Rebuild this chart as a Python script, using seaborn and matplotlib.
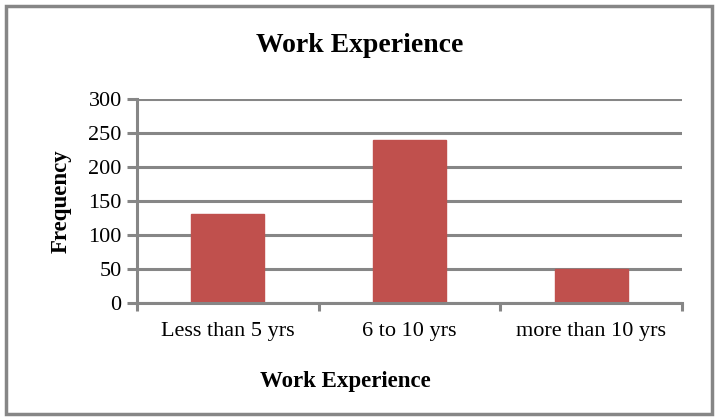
import matplotlib
matplotlib.use("Agg")
import matplotlib.pyplot as plt
import seaborn as sns
import pandas as pd
from matplotlib.patches import Rectangle

categories = ["Less than 5 yrs", "6 to 10 yrs", "more than 10 yrs"]
frequency = [130, 240, 50]
yticks = [0, 50, 100, 150, 200, 250, 300]

sns.set_theme(style="white")
plt.rcParams['font.family'] = ['Liberation Serif', 'DejaVu Serif']
plt.rcParams['text.color'] = 'black'
plt.rcParams['axes.labelcolor'] = 'black'
plt.rcParams['xtick.labelcolor'] = 'black'
plt.rcParams['ytick.labelcolor'] = 'black'

df = pd.DataFrame({"cat": categories, "freq": frequency})

fig = plt.figure(figsize=(7.18, 4.2), dpi=100)
ax = fig.add_axes([137/718, 1-302.7/420, (682-137)/718, (302.7-99)/420])

sns.barplot(data=df, x="cat", y="freq", color="#C0504D", width=0.4,
            saturation=1, ax=ax, edgecolor="#C0504D")

grid_c = "#868686"
ax.set_ylim(0, 300)
ax.set_xlim(-0.5, 2.5)
ax.set_yticks(yticks)
ax.set_yticklabels([str(v) for v in yticks], fontsize=16)
ax.yaxis.grid(True, color=grid_c, linewidth=2.2)
ax.set_axisbelow(True)
ax.tick_params(axis='y', length=7, width=2.2, color=grid_c, pad=4, left=True)
ax.set_xticks([-0.5, 0.5, 1.5, 2.5], minor=True)
ax.set_xticks([0, 1, 2])
ax.set_xticklabels(categories, fontsize=16)
ax.tick_params(axis='x', which='major', length=0, pad=14)
ax.tick_params(axis='x', which='minor', length=6, width=2.2, color=grid_c, bottom=True)
for s in ["top", "right"]:
    ax.spines[s].set_visible(False)
for s in ["left", "bottom"]:
    ax.spines[s].set_color(grid_c)
    ax.spines[s].set_linewidth(2.2)
ax.set_xlabel("")
ax.set_ylabel("Frequency", fontsize=16.5, fontweight="bold", labelpad=12)

fig.text(360/718, 1-46/420, "Work Experience", fontsize=20, fontweight="bold",
         ha="center", va="center")
fig.text(345/718, 1-382/420, "Work Experience", fontsize=16.5, fontweight="bold",
         ha="center", va="center")

fig.patches.append(Rectangle((6/718, 6/420), 706/718, 408/420, transform=fig.transFigure,
                             fill=False, edgecolor=grid_c, linewidth=2.5))

fig.savefig("out.png", dpi=100)
